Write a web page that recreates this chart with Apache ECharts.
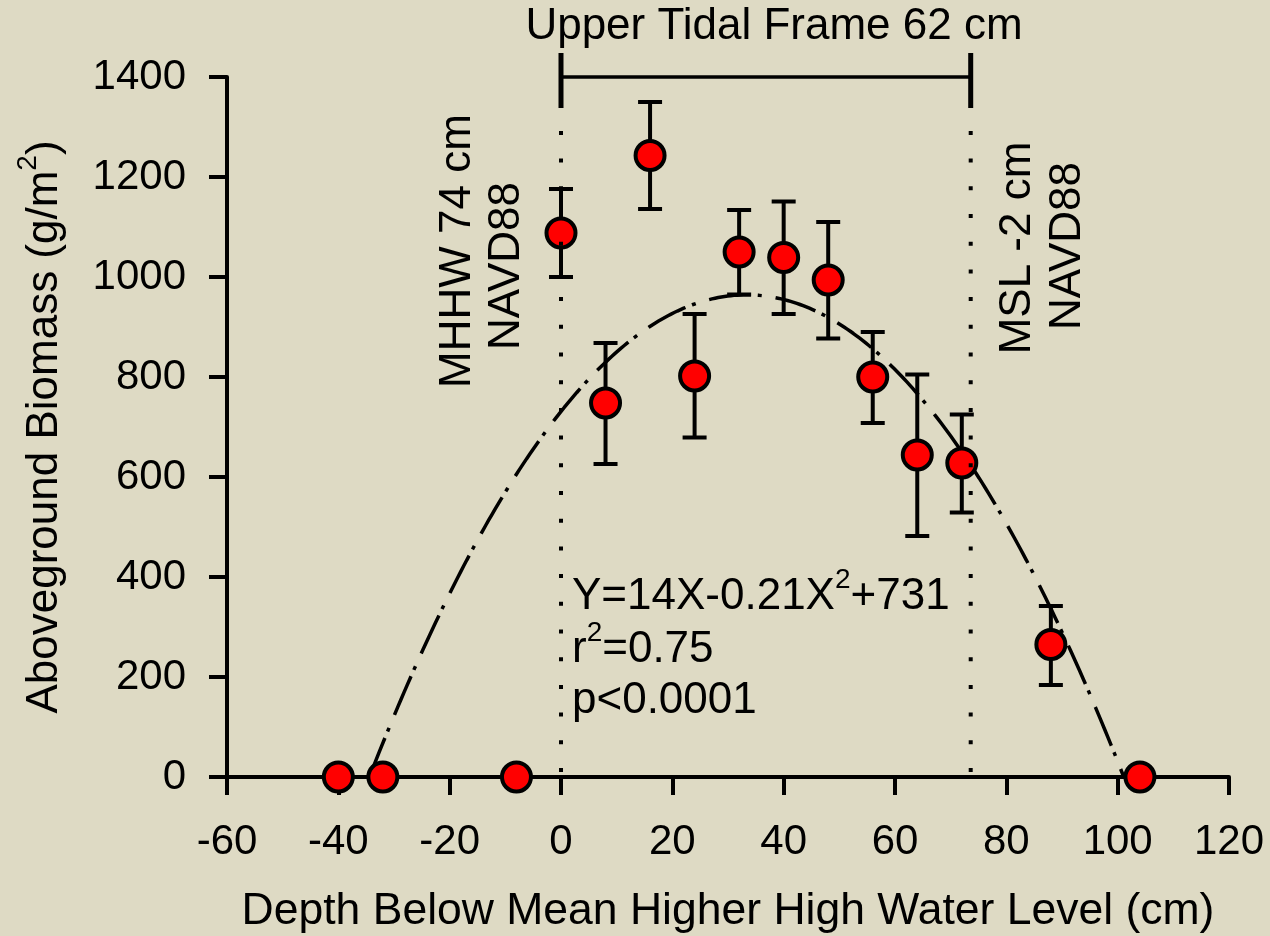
<!DOCTYPE html>
<html>
<head>
<meta charset="utf-8">
<title>Aboveground Biomass vs Depth Below MHHW</title>
<script src="https://cdn.jsdelivr.net/npm/echarts@6/dist/echarts.min.js"></script>
<style>
  html, body { margin: 0; padding: 0; background: #DEDAC4; }
  #chart { width: 1270px; height: 936px; }
</style>
</head>
<body>
<div id="chart"></div>
<script>
// Plot depth below MHHW (cm) and mean aboveground biomass (g/m2)
const depth   = [-40, -32, -8, 0, 8, 16, 24, 32, 40, 48, 56, 64, 72, 88, 104];
const biomass = [0, 0, 0, 1088, 748, 1243, 802, 1050, 1039, 994, 800, 644, 628, 265, 0];
// Error bar limits (null where no bar is drawn)
const errLow  = [null, null, null, 1000, 626, 1136, 679, 965, 926, 877, 708, 482, 529, 184, null];
const errHigh = [null, null, null, 1176, 868, 1350, 926, 1134, 1151, 1110, 890, 805, 725, 342, null];
// Quadratic fit Y = c0 + c1*X + c2*X^2
const fitCoef = [731, 14, -0.21];
// MHHW (0 cm) and MSL positions along the depth axis
const frameBounds = [0, 73.6];
const xTicks = { min: -60, max: 120, step: 20 };
const yTicks = { min: 0, max: 1400, step: 200 };

const FONT = "'Liberation Sans', Arial, sans-serif";
const INK = '#000';

// fitted curve, drawn between the two roots of the quadratic
function fitValue(x) { return fitCoef[0] + fitCoef[1] * x + fitCoef[2] * x * x; }
const disc = Math.sqrt(fitCoef[1] * fitCoef[1] - 4 * fitCoef[2] * fitCoef[0]);
const rootA = (-fitCoef[1] + disc) / (2 * fitCoef[2]);
const rootB = (-fitCoef[1] - disc) / (2 * fitCoef[2]);
const xFrom = Math.min(rootA, rootB), xTo = Math.max(rootA, rootB);
const fitLine = [];
const steps = 240;
for (let i = 0; i <= steps; i++) {
  const x = xFrom + (xTo - xFrom) * i / steps;
  fitLine.push([x, Math.max(0, fitValue(x))]);
}

const points = depth.map((d, i) => [d, biomass[i]]);
const bars = [];
depth.forEach((d, i) => {
  if (errLow[i] != null && errHigh[i] != null) bars.push([d, errLow[i], errHigh[i]]);
});

const chart = echarts.init(document.getElementById('chart'), null, { renderer: 'canvas' });

const axisCommon = {
  type: 'value',
  axisLine: { show: true, onZero: false, lineStyle: { color: INK, width: 4 } },
  axisTick: { show: true, inside: false, length: 18, lineStyle: { color: INK, width: 4 } },
  splitLine: { show: false },
  nameLocation: 'middle'
};
const plainNumber = v => String(v);

chart.setOption({
  backgroundColor: '#DEDAC4',
  animation: false,
  grid: { left: 227, right: 41, top: 77, bottom: 159, containLabel: false, outerBoundsMode: 'none' },
  xAxis: Object.assign({}, axisCommon, {
    min: xTicks.min, max: xTicks.max, interval: xTicks.step,
    axisLabel: { fontSize: 42, color: INK, fontFamily: FONT, margin: 44, formatter: plainNumber, showMinLabel: true, showMaxLabel: true, hideOverlap: false },
    name: 'Depth Below Mean Higher High Water Level (cm)',
    nameGap: 112,
    nameTextStyle: { fontSize: 44.5, color: INK, fontFamily: FONT }
  }),
  yAxis: Object.assign({}, axisCommon, {
    min: yTicks.min, max: yTicks.max, interval: yTicks.step,
    axisLabel: { fontSize: 42, color: INK, fontFamily: FONT, margin: 41, formatter: plainNumber, showMinLabel: true, showMaxLabel: true, hideOverlap: false },
    name: 'Aboveground Biomass (g/m{s|2})',
    nameRotate: 90,
    nameGap: 151,
    nameTextStyle: {
      fontSize: 44, color: INK, fontFamily: FONT, lineHeight: 62,
      rich: { s: { fontSize: 28, lineHeight: 28, verticalAlign: 'top', color: INK, fontFamily: FONT } }
    }
  }),
  series: [
    {
      name: 'fit',
      type: 'line',
      data: fitLine,
      showSymbol: false,
      smooth: false,
      z: 2,
      lineStyle: { color: INK, width: 3.5, type: [42, 7, 4, 14], cap: 'butt' },
      silent: true
    },
    {
      name: 'frame bar',
      type: 'line',
      data: frameBounds.map(x => [x, yTicks.max]),
      showSymbol: false,
      clip: false,
      z: 3,
      lineStyle: { color: INK, width: 3.5 },
      silent: true
    },
    {
      name: 'error bars',
      type: 'custom',
      data: bars,
      z: 4,
      silent: true,
      renderItem(params, api) {
        const x = api.value(0);
        const lo = api.coord([x, api.value(1)]);
        const hi = api.coord([x, api.value(2)]);
        const hw = 12;
        const style = { stroke: INK, lineWidth: 4, fill: null };
        return {
          type: 'group',
          children: [
            { type: 'line', shape: { x1: lo[0], y1: lo[1], x2: hi[0], y2: hi[1] }, style },
            { type: 'line', shape: { x1: lo[0] - hw, y1: lo[1], x2: lo[0] + hw, y2: lo[1] }, style },
            { type: 'line', shape: { x1: hi[0] - hw, y1: hi[1], x2: hi[0] + hw, y2: hi[1] }, style }
          ]
        };
      }
    },
    {
      name: 'biomass',
      type: 'scatter',
      data: points,
      symbol: 'circle',
      symbolSize: 29,
      z: 5,
      clip: false,
      itemStyle: { color: '#FF0000', borderColor: INK, borderWidth: 4, opacity: 1 }
    },
    {
      name: 'frame limits',
      type: 'custom',
      data: frameBounds.map(x => [x]),
      z: 6,
      silent: true,
      renderItem(params, api) {
        const x = api.value(0);
        const base = api.coord([x, yTicks.min]);
        const top = api.coord([x, yTicks.max]);
        return {
          type: 'group',
          children: [
            { // end tick of the frame bracket
              type: 'line',
              shape: { x1: top[0], y1: top[1] - 24, x2: top[0], y2: top[1] + 31 },
              style: { stroke: INK, lineWidth: 5 }
            },
            { // dotted level line down to the axis
              type: 'line',
              shape: { x1: base[0], y1: base[1] - 5, x2: top[0], y2: top[1] + 31 },
              style: { stroke: INK, lineWidth: 4, lineDash: [4, 23.7], lineCap: 'butt' }
            }
          ]
        };
      }
    }
  ],
  graphic: [
    {
      type: 'text', x: 774, y: 27, silent: true,
      style: { text: 'Upper Tidal Frame 62 cm', fontSize: 44, fontFamily: FONT, fill: INK, align: 'center', verticalAlign: 'middle' }
    },
    {
      type: 'text', x: 458, y: 251, rotation: Math.PI / 2, silent: true,
      style: { text: 'MHHW 74 cm', fontSize: 44, fontFamily: FONT, fill: INK, align: 'center', verticalAlign: 'middle' }
    },
    {
      type: 'text', x: 507, y: 266, rotation: Math.PI / 2, silent: true,
      style: { text: 'NAVD88', fontSize: 44, fontFamily: FONT, fill: INK, align: 'center', verticalAlign: 'middle' }
    },
    {
      type: 'text', x: 1018, y: 248, rotation: Math.PI / 2, silent: true,
      style: { text: 'MSL -2 cm', fontSize: 44, fontFamily: FONT, fill: INK, align: 'center', verticalAlign: 'middle' }
    },
    {
      type: 'text', x: 1068, y: 246, rotation: Math.PI / 2, silent: true,
      style: { text: 'NAVD88', fontSize: 44, fontFamily: FONT, fill: INK, align: 'center', verticalAlign: 'middle' }
    },
    {
      type: 'text', x: 572, y: 597, silent: true,
      style: {
        text: '{n|Y=14X-0.21X}{s|2}{n|+731}', align: 'left', verticalAlign: 'middle',
        rich: {
          n: { fontSize: 44, lineHeight: 62, fontFamily: FONT, fill: INK, color: INK },
          s: { fontSize: 28, lineHeight: 28, verticalAlign: 'top', fontFamily: FONT, fill: INK, color: INK }
        }
      }
    },
    {
      type: 'text', x: 572, y: 650, silent: true,
      style: {
        text: '{n|r}{s|2}{n|=0.75}', align: 'left', verticalAlign: 'middle',
        rich: {
          n: { fontSize: 44, lineHeight: 62, fontFamily: FONT, fill: INK, color: INK },
          s: { fontSize: 28, lineHeight: 28, verticalAlign: 'top', fontFamily: FONT, fill: INK, color: INK }
        }
      }
    },
    {
      type: 'text', x: 572, y: 701, silent: true,
      style: { text: 'p<0.0001', fontSize: 44, fontFamily: FONT, fill: INK, align: 'left', verticalAlign: 'middle' }
    }
  ]
});
</script>
</body>
</html>
